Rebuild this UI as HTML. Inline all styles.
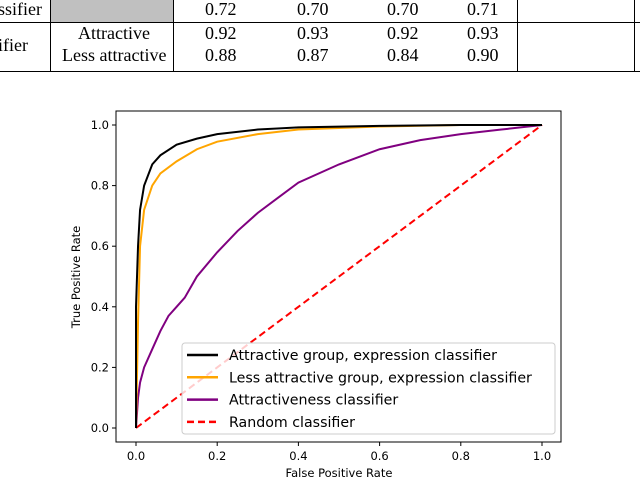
<!DOCTYPE html>
<html><head><meta charset="utf-8"><style>
body{margin:0;background:#fff;width:640px;height:480px;overflow:hidden;position:relative;font-family:"Liberation Sans",sans-serif}
.t{position:absolute;font-family:"Liberation Serif",serif;font-size:18px;color:#000;white-space:nowrap}
</style></head><body>
<div style="position:absolute;left:0;top:0;width:640px;height:72px">
<div style="position:absolute;left:51px;top:0;width:122px;height:22px;background:#c0c0c0"></div>
<div style="position:absolute;left:0;top:22px;width:640px;height:1px;background:#000"></div>
<div style="position:absolute;left:0;top:71px;width:640px;height:1px;background:#000"></div>
<div style="position:absolute;left:50px;top:0;width:1px;height:72px;background:#000"></div>
<div style="position:absolute;left:173px;top:0;width:1px;height:72px;background:#000"></div>
<div style="position:absolute;left:517px;top:0;width:1px;height:72px;background:#000"></div>
<div style="position:absolute;left:634px;top:0;width:1px;height:72px;background:#000"></div>
<span class="t" style="left:-2px;top:-1px">ssifier</span>
<span class="t" style="left:-2px;top:35px">ifier</span>
<span class="t" style="left:78px;top:23px">Attractive</span>
<span class="t" style="left:62px;top:45px">Less attractive</span>
<span class="t" style="left:205px;top:-1px">0.72</span><span class="t" style="left:297px;top:-1px">0.70</span><span class="t" style="left:387px;top:-1px">0.70</span><span class="t" style="left:467px;top:-1px">0.71</span>
<span class="t" style="left:205px;top:23px">0.92</span><span class="t" style="left:297px;top:23px">0.93</span><span class="t" style="left:387px;top:23px">0.92</span><span class="t" style="left:467px;top:23px">0.93</span>
<span class="t" style="left:205px;top:45px">0.88</span><span class="t" style="left:297px;top:45px">0.87</span><span class="t" style="left:387px;top:45px">0.84</span><span class="t" style="left:467px;top:45px">0.90</span>
</div>
<svg id="chart" width="640" height="480" style="position:absolute;left:0;top:0" font-family="DejaVu Sans, sans-serif"></svg>
<script>
const blackX=[0,0,0.005,0.01,0.02,0.04,0.06,0.1,0.15,0.2,0.3,0.4,0.6,0.8,1];
const blackY=[0,0.4,0.6,0.72,0.8,0.87,0.9,0.935,0.955,0.97,0.985,0.992,0.997,1,1];
const orangeX=[0,0.005,0.01,0.02,0.04,0.06,0.1,0.15,0.2,0.3,0.4,0.6,0.8,1];
const orangeY=[0,0.35,0.6,0.72,0.8,0.84,0.88,0.92,0.945,0.97,0.985,0.995,1,1];
const purpleX=[0,0.005,0.01,0.02,0.04,0.06,0.08,0.1,0.12,0.15,0.2,0.25,0.3,0.35,0.4,0.5,0.6,0.7,0.8,0.9,1];
const purpleY=[0,0.1,0.15,0.2,0.26,0.32,0.37,0.4,0.43,0.5,0.58,0.65,0.71,0.76,0.81,0.87,0.92,0.95,0.97,0.985,1];
const randX=[0,1],randY=[0,1];
const ticks=[0,0.2,0.4,0.6,0.8,1.0];
const tickLabels=["0.0","0.2","0.4","0.6","0.8","1.0"];
const legendLabels=["Attractive group, expression classifier","Less attractive group, expression classifier","Attractiveness classifier","Random classifier"];
const legendColors=["#000","#ffa500","#800080","#ff0000"];

const NS="http://www.w3.org/2000/svg",svg=document.getElementById("chart");
const sx=v=>136+v*406, sy=v=>428-v*303;
function el(t,a,p){const e=document.createElementNS(NS,t);for(const k in a)e.setAttribute(k,a[k]);(p||svg).appendChild(e);return e;}
const box=el("rect",{x:116,y:111,width:445,height:331,fill:"none",stroke:"#000","stroke-width":1});


ticks.forEach((t,i)=>{
 el("line",{x1:sx(t),x2:sx(t),y1:442,y2:446,stroke:"#000"});
 const a=el("text",{x:sx(t),y:460,"text-anchor":"middle","font-size":11.5});a.textContent=tickLabels[i];
 
 
 el("line",{x1:112,x2:116,y1:sy(t),y2:sy(t),stroke:"#000"});
 const b=el("text",{x:109,y:sy(t)+4,"text-anchor":"end","font-size":11.5});b.textContent=tickLabels[i];
 
 
});
const xt=el("text",{x:339,y:477,"text-anchor":"middle","font-size":11.5});xt.textContent="False Positive Rate";


const yt=el("text",{x:0,y:0,"text-anchor":"middle","font-size":11.5,transform:"translate(80,277) rotate(-90)"});yt.textContent="True Positive Rate";


function line(X,Y,c,name,dash){const p=el("polyline",{points:X.map((x,i)=>sx(x)+","+sy(Y[i])).join(" "),fill:"none",stroke:c,"stroke-width":2,"stroke-dasharray":dash||"none"});
 
 }
line(randX,randY,"#ff0000","random-line","7,4");
line(purpleX,purpleY,"#800080","attractiveness-line");
line(orangeX,orangeY,"#ffa500","less-attractive-line");
line(blackX,blackY,"#000","attractive-line");
const lg=el("rect",{x:182,y:343,width:373,height:91,rx:3,fill:"rgba(255,255,255,0.8)",stroke:"#ccc"});


legendLabels.forEach((l,i)=>{const y=355+i*22.3;
 el("line",{x1:187,x2:218,y1:y,y2:y,stroke:legendColors[i],"stroke-width":2.5,"stroke-dasharray":i==3?"7,4":"none"});
 const t=el("text",{x:229,y:y+5,"font-size":14.2});t.textContent=l;
 
 });
</script>
</body></html>
